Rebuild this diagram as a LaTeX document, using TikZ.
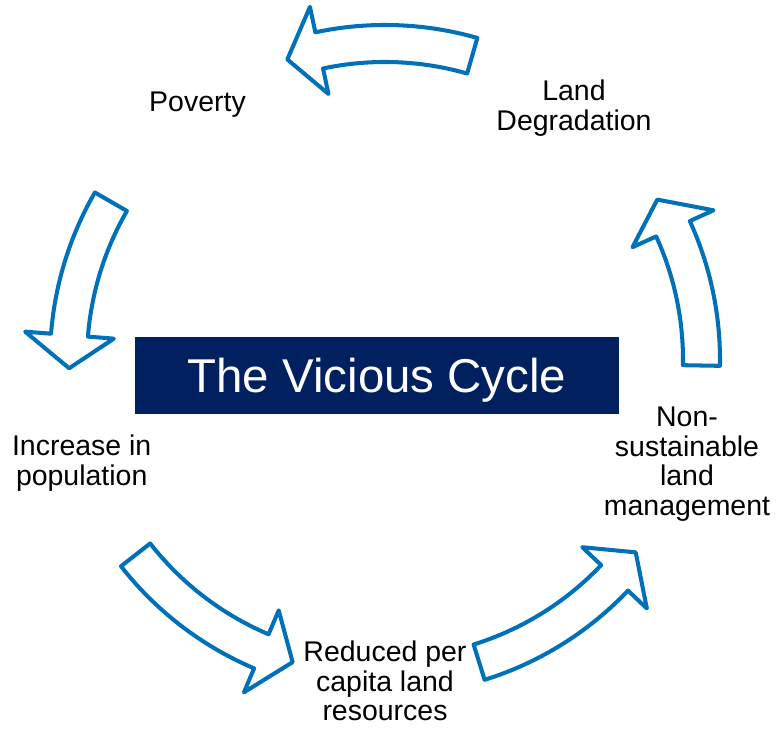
\documentclass[tikz,border=0pt]{standalone}
\usepackage{fontspec}
\setmainfont{Liberation Sans}
\definecolor{cycleblue}{RGB}{0,112,184}
\definecolor{navy}{RGB}{0,32,96}
\tikzset{
  cyclearrow/.style={draw=cycleblue, line width=2.3pt, line join=round, fill=white},
  stage/.style={anchor=north, inner sep=0pt, align=center, font=\fontsize{16.2}{16.9}\selectfont},
  titlebox/.style={fill=navy, text=white, minimum width=96.8mm, minimum height=15.4mm, inner sep=0pt,
    text height=19.3pt, text depth=0pt, font=\fontsize{27}{27}\selectfont}
}
\begin{document}
\begin{tikzpicture}[x=0.2mm,y=0.2mm]
\useasboundingbox (0,0) rectangle (779,729);

\node[titlebox] (title) at (377,353.5) {The Vicious Cycle};

\node[stage] (degradation) at (574,649.5) {Land\\Degradation};
\node[stage] (poverty) at (197.5,637.7) {Poverty};
\node[stage] (population) at (81.7,294.4) {Increase in\\population};
\node[stage] (reduced) at (385,88.5) {Reduced per\\capita land\\resources};
\node[stage] (nonsustainable) at (687,322.5) {Non-\\sustainable\\land\\management};

% curved block arrows round the centre of the cycle
\begin{scope}[shift={(385,369)}]
\draw[cyclearrow] (74:298) arc[start angle=74,end angle=102,radius=298] -- (102:272) -- (108:316)
  -- (102:361) -- (102:335) arc[start angle=102,end angle=74,radius=335] -- cycle;
\draw[cyclearrow] (150:298) arc[start angle=150,end angle=175.5,radius=298] -- (175.5:272) -- (181.5:316)
  -- (175.5:361) -- (175.5:335) arc[start angle=175.5,end angle=150,radius=335] -- cycle;
\draw[cyclearrow] (218:298) arc[start angle=218,end angle=247,radius=298] -- (247:272) -- (253:316)
  -- (247:361) -- (247:335) arc[start angle=247,end angle=218,radius=335] -- cycle;
\draw[cyclearrow] (287.3:298) arc[start angle=287.3,end angle=316.5,radius=298] -- (316.5:272) -- (322.5:316)
  -- (316.5:361) -- (316.5:335) arc[start angle=316.5,end angle=287.3,radius=335] -- cycle;
\draw[cyclearrow] (-1:298) arc[start angle=-1,end angle=24.5,radius=298] -- (24.5:272) -- (30.5:316)
  -- (24.5:361) -- (24.5:335) arc[start angle=24.5,end angle=-1,radius=335] -- cycle;
\end{scope}
\end{tikzpicture}
\end{document}
